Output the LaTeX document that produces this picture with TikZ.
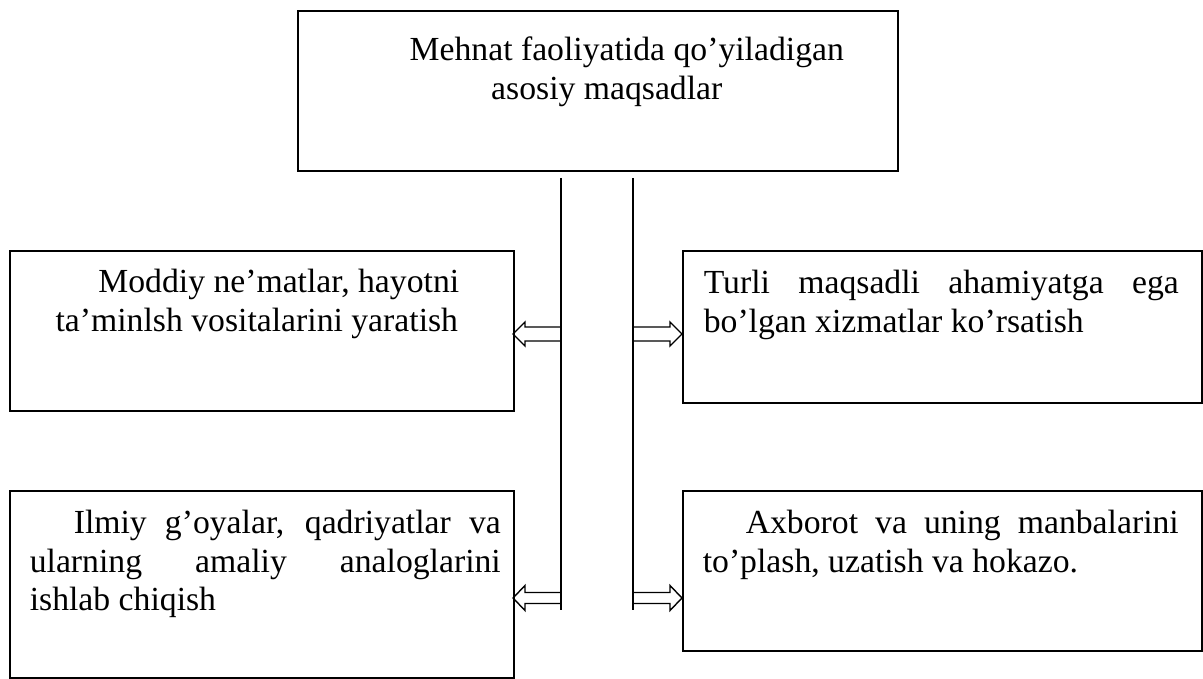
\documentclass[tikz,border=0pt]{standalone}
\usepackage{fontspec}
\setmainfont{Liberation Serif}
\usetikzlibrary{positioning}

% width, height, left pad, text width, content
\newcommand{\cellbox}[5]{\parbox[t][#2][t]{#1}{\hspace*{#3}\parbox[t]{#4}{#5}}}

\begin{document}
\begin{tikzpicture}[
    x=1pt, y=-1pt,
    box/.style={rectangle, draw=black, line width=1.6pt, anchor=north west, inner sep=0pt, font=\fontsize{33.7pt}{38.5pt}\selectfont},
    spine/.style={line width=1.4pt},
    hollow/.style={line width=1.4pt, line join=miter}
]
\useasboundingbox (0,0) rectangle (1203,679);

\node[box] (goal) at (297,10) {\cellbox{600pt}{160pt}{29pt}{560pt}{\centering
    \rule{0pt}{50pt}\hspace*{40pt}Mehnat faoliyatida qo’yiladigan\\ asosiy maqsadlar}};
\node[box] (make) at (9,250) {\cellbox{504pt}{160pt}{10pt}{474pt}{\centering
    \rule{0pt}{42pt}\hspace*{44pt}Moddiy ne’matlar, hayotni\\ ta’minlsh vositalarini yaratish}};
\node[box] (serve) at (682,250) {\cellbox{519pt}{152pt}{21pt}{475pt}{%
    \rule{0pt}{43pt}\makebox[\linewidth][s]{Turli maqsadli ahamiyatga ega}\\
    bo’lgan xizmatlar ko’rsatish}};
\node[box] (research) at (9,490) {\cellbox{504pt}{187pt}{20pt}{471pt}{%
    \rule{0pt}{43pt}\hspace*{44pt}\makebox[\dimexpr\linewidth-44pt][s]{Ilmiy g’oyalar, qadriyatlar va}\\
    \makebox[\linewidth][s]{ularning amaliy analoglarini}\\
    ishlab chiqish}};
\node[box] (inform) at (682,490) {\cellbox{519pt}{160pt}{20pt}{476pt}{%
    \rule{0pt}{43pt}\hspace*{43pt}\makebox[\dimexpr\linewidth-43pt][s]{Axborot va uning manbalarini}\\
    to’plash, uzatish va hokazo.}};

% spine lines under the goal box
\coordinate (spineL top) at (561,178);
\coordinate (spineL end) at (561,610);
\coordinate (spineR top) at (633,178);
\coordinate (spineR end) at (633,610);
\draw[spine] (spineL top) -- (spineL end);
\draw[spine] (spineR top) -- (spineR end);

% hollow arrows
\coordinate (armA) at (561,334);
\coordinate (armB) at (633,334);
\coordinate (armC) at (561,598);
\coordinate (armD) at (633,598);
\draw[hollow] (armA) ++(0,-7) -- ++(-36,0) -- ++(0,-5) -- ++(-12,12) -- ++(12,12) -- ++(0,-5) -- ++(36,0);
\draw[hollow] (armB) ++(0,-7) -- ++(37,0) -- ++(0,-5) -- ++(12,12) -- ++(-12,12) -- ++(0,-5) -- ++(-37,0);
\draw[hollow] (armC) ++(0,-5.5) -- ++(-36,0) -- ++(0,-7) -- ++(-12,12.5) -- ++(12,12.5) -- ++(0,-7) -- ++(36,0);
\draw[hollow] (armD) ++(0,-5.5) -- ++(37,0) -- ++(0,-7) -- ++(12,12.5) -- ++(-12,12.5) -- ++(0,-7) -- ++(-37,0);
\end{tikzpicture}
\end{document}
